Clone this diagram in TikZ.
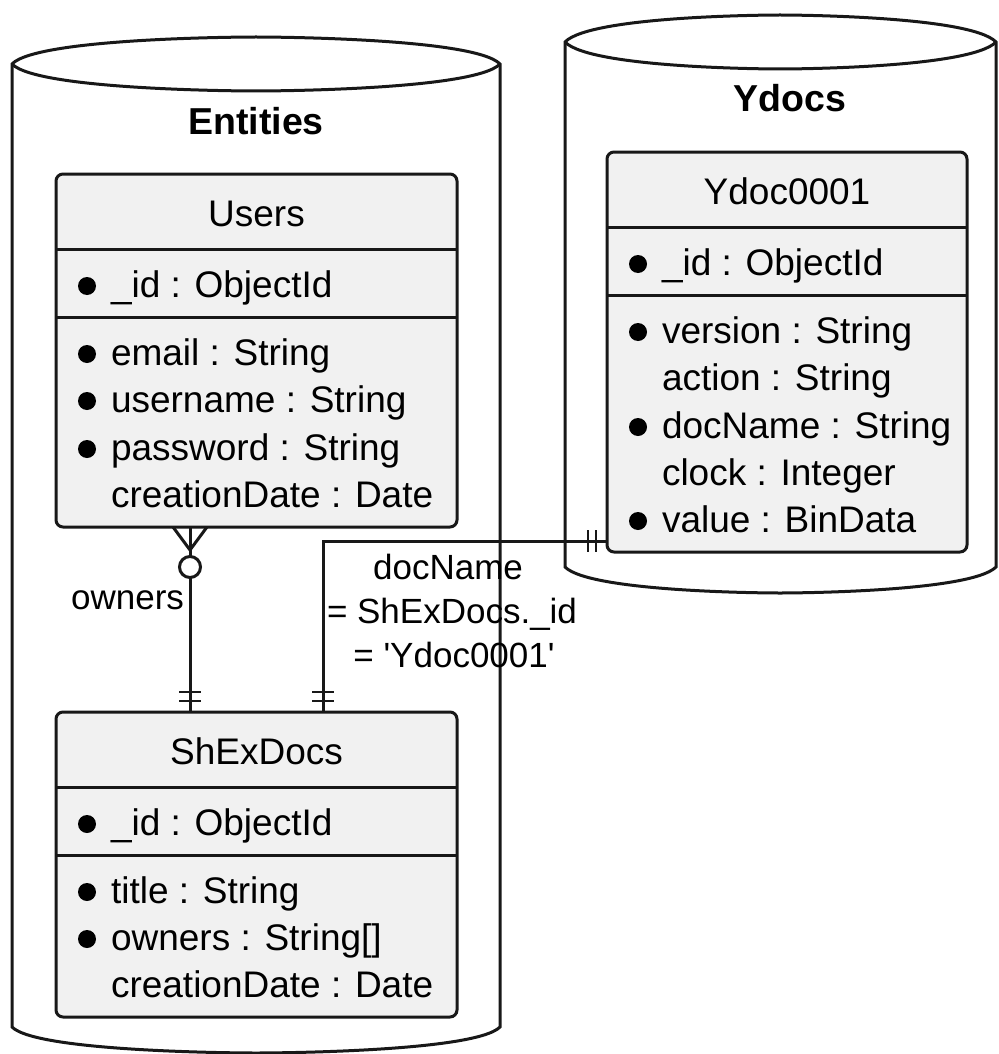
\documentclass[tikz,border=0pt]{standalone}
\usepackage{fontspec}
\setmainfont{Liberation Sans}
\definecolor{entfill}{HTML}{F1F1F1}
\definecolor{ink}{HTML}{181818}
\begin{document}
\begin{tikzpicture}[x=1pt,y=-1pt,
  every node/.style={inner sep=0pt, outer sep=0pt},
  ln/.style={line width=3pt, draw=ink},
  thin/.style={line width=2.5pt, draw=ink},
  entbox/.style={ln, fill=entfill, rounded corners=7pt, anchor=north west},
  ttl/.style={font=\fontsize{37}{44}\selectfont, anchor=base},
  attr/.style={font=\fontsize{37}{44}\selectfont, anchor=base west},
  grp/.style={font=\bfseries\fontsize{37.5}{44}\selectfont, anchor=base},
  lbl/.style={font=\fontsize{35}{42}\selectfont, anchor=base},
  dot/.style={circle, fill=black, minimum size=18pt},
]
\useasboundingbox (0,0) rectangle (998,1054);

% ---- database cylinder: Entities ----
\draw[ln, fill=white]
  (12,64) .. controls (38,37) and (256,37) .. (256,37)
  .. controls (256,37) and (474,37) .. (500,64)
  -- (500,1027) .. controls (474,1053) and (256,1053) .. (256,1053)
  .. controls (256,1053) and (38,1053) .. (12,1027) -- cycle;
\draw[ln] (12,64) .. controls (38,91) and (256,91) .. (256,91)
  .. controls (256,91) and (474,91) .. (500,64);
\node[grp] (gEnt) at (256,135) {Entities};

% ---- database cylinder: Ydocs ----
\draw[ln, fill=white]
  (565,42) .. controls (591,15) and (780,15) .. (780,15)
  .. controls (780,15) and (970,15) .. (996,42)
  -- (996,567) .. controls (970,593) and (780,593) .. (780,593)
  .. controls (780,593) and (591,593) .. (565,567) -- cycle;
\draw[ln] (565,42) .. controls (591,69) and (780,69) .. (780,69)
  .. controls (780,69) and (970,69) .. (996,42);
\node[grp] (gY) at (790,112) {Ydocs};

% ---- entity: Users ----
\node[entbox, minimum width=401pt, minimum height=353pt] (users) at (56,174) {};
\draw[ln] (users.west |- 0,249) -- (users.east |- 0,249);
\draw[ln] (users.west |- 0,317) -- (users.east |- 0,317);
\node[ttl] (uT) at (256.5,226) {Users};
\node[dot] (ub0) at (87,286) {};
\node[attr] (u0) at (111,297) {\_id : ObjectId};
\node[dot] (ub1) at (87,354) {};
\node[attr] (u1) at (111,365) {email : String};
\node[dot] (ub2) at (87,401) {};
\node[attr] (u2) at (111,412) {username : String};
\node[dot] (ub3) at (87,449) {};
\node[attr] (u3) at (111,460) {password : String};
\node[attr] (u4) at (111,507) {creationDate : Date};

% ---- entity: ShExDocs ----
\node[entbox, minimum width=401pt, minimum height=305pt] (shex) at (56,712) {};
\draw[ln] (shex.west |- 0,787) -- (shex.east |- 0,787);
\draw[ln] (shex.west |- 0,855) -- (shex.east |- 0,855);
\node[ttl] (sT) at (256.5,764) {ShExDocs};
\node[dot] (sb0) at (87,824) {};
\node[attr] (s0) at (111,835) {\_id : ObjectId};
\node[dot] (sb1) at (87,892) {};
\node[attr] (s1) at (111,903) {title : String};
\node[dot] (sb2) at (87,939) {};
\node[attr] (s2) at (111,950) {owners : String[]};
\node[attr] (s3) at (111,997) {creationDate : Date};

% ---- entity: Ydoc0001 ----
\node[entbox, minimum width=360pt, minimum height=400pt] (ydoc) at (607,152) {};
\draw[ln] (ydoc.west |- 0,227) -- (ydoc.east |- 0,227);
\draw[ln] (ydoc.west |- 0,295) -- (ydoc.east |- 0,295);
\node[ttl] (yT) at (787,204) {Ydoc0001};
\node[dot] (yb0) at (638,264) {};
\node[attr] (y0) at (662,275) {\_id : ObjectId};
\node[dot] (yb1) at (638,332) {};
\node[attr] (y1) at (662,343) {version : String};
\node[attr] (y2) at (662,390) {action : String};
\node[dot] (yb3) at (638,427) {};
\node[attr] (y3) at (662,438) {docName : String};
\node[attr] (y4) at (662,485) {clock : Integer};
\node[dot] (yb5) at (638,521) {};
\node[attr] (y5) at (662,532) {value : BinData};

% ---- relation: Users (zero or many) -- ShExDocs (exactly one) ----
\coordinate (ownTop) at (users.south -| 190,0);
\coordinate (ownBot) at (shex.north -| 190,0);
\coordinate (ownFoot) at (190,550);
\coordinate (ownRing) at (190,567);
\draw[ln] (ownTop) -- (ownBot);
\draw[ln] (users.south -| 173,0) -- (ownFoot) -- (users.south -| 207,0);
\draw[ln, fill=white] (ownRing) circle[radius=10.5pt];
\draw[thin] (179,692) -- (201,692);
\draw[thin] (179,701) -- (201,701);
\node[lbl, anchor=base east] (ownLbl) at (184,609) {owners};

% ---- relation: ShExDocs (exactly one) -- Ydoc0001 (exactly one) ----
\coordinate (docBend) at (323,541);
\draw[ln] (shex.north -| 323,0) -- (docBend) -- (ydoc.west |- 0,541);
\draw[thin] (312,692) -- (334,692);
\draw[thin] (312,701) -- (334,701);
\draw[thin] (588,530) -- (588,552);
\draw[thin] (596,530) -- (596,552);
\node[lbl] (relA) at (448,579) {docName};
\node[lbl] (relB) at (452,623) {= ShExDocs.\_id};
\node[lbl] (relC) at (454,667) {= \textquotesingle Ydoc0001\textquotesingle};
\end{tikzpicture}
\end{document}
